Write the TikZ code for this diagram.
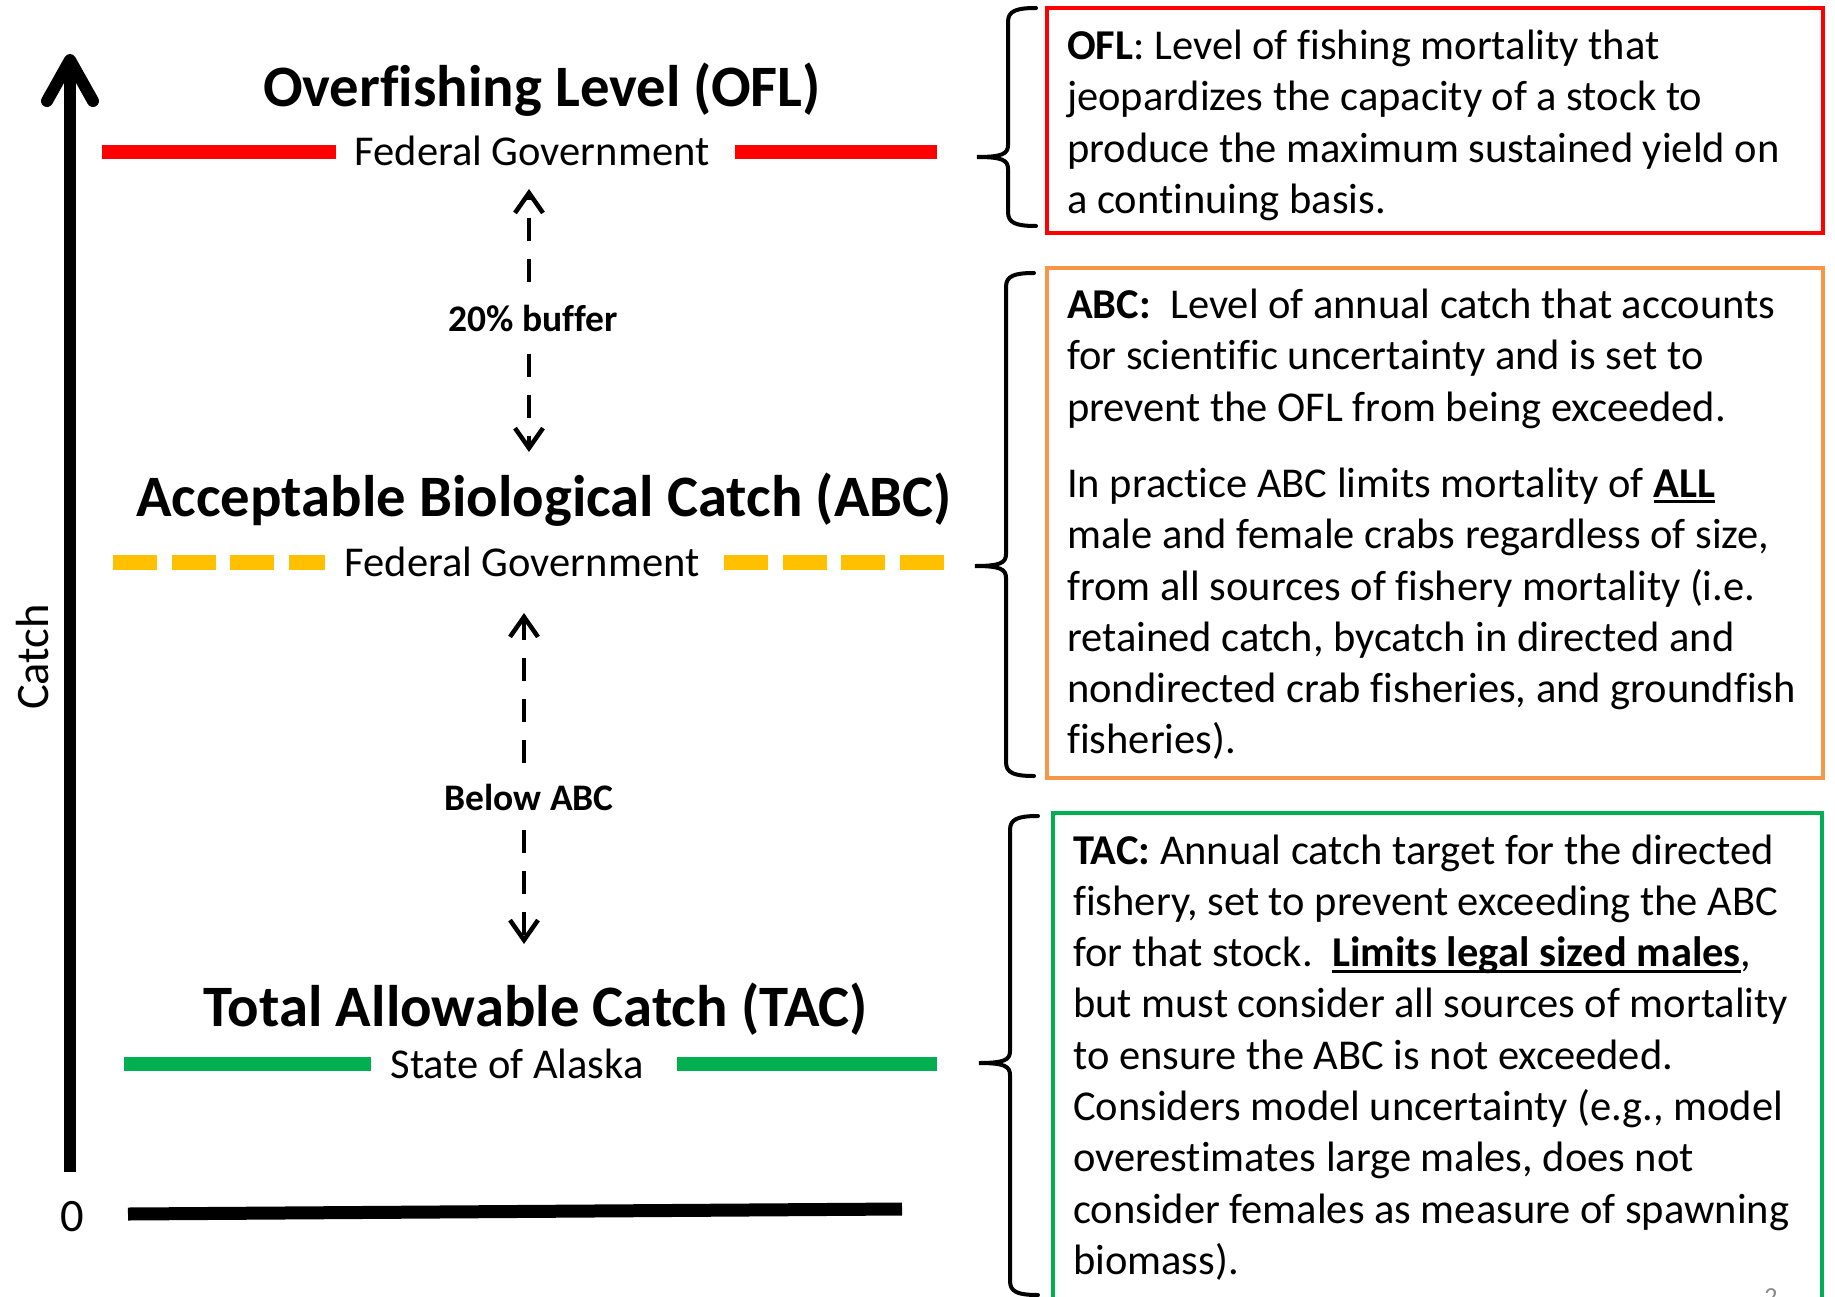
\documentclass[tikz,border=0pt]{standalone}
\usepackage{fontspec}
\setmainfont[Ligatures=NoCommon]{Carlito}
\usetikzlibrary{arrows.meta}
\definecolor{oflred}{HTML}{FF0000}
\definecolor{abcyel}{HTML}{FFC000}
\definecolor{abcorg}{HTML}{F79646}
\definecolor{tacgrn}{HTML}{00B050}
\definecolor{pagegray}{HTML}{8B8B8B}
\newcommand\myul[1]{\setbox0\hbox{#1}\rlap{\rule[-6pt]{\wd0}{3pt}}\box0}
\newcommand\mybracepath[4]{%
  \draw[bracestyle] (#1+28,#2) .. controls (#1+8,#2) and (#1,#2+3) .. (#1,#2+14)
    -- (#1,#3-12) .. controls (#1,#3-3) and (#1-6,#3) .. (#1-31,#3)
    .. controls (#1-6,#3) and (#1,#3+3) .. (#1,#3+12)
    -- (#1,#4-14) .. controls (#1,#4-3) and (#1+8,#4) .. (#1+28,#4);}
\begin{document}
\begin{tikzpicture}[x=1pt,y=-1pt,
  title/.style={font=\fontsize{58.7}{70}\selectfont\bfseries, inner sep=0pt, anchor=base},
  gov/.style={font=\fontsize{42.5}{50}\selectfont, inner sep=0pt, anchor=base},
  lbl/.style={font=\fontsize{37.5}{45}\selectfont\bfseries, inner xsep=2pt, inner ysep=22pt, anchor=base},
  axislbl/.style={font=\fontsize{46.5}{55}\selectfont, inner sep=0pt, anchor=base},
  levelline/.style={line width=14pt},
  dasharr/.style={line width=4.5pt, dash pattern=on 23pt off 18pt, -{Straight Barb[length=20pt,width=28pt]}},
  boxline/.style={line width=4pt},
  bracestyle/.style={line width=4pt, line cap=round},
  desc/.style={inner sep=0pt, anchor=base west, font=\fontsize{42.5}{51.3}\selectfont}
]
\useasboundingbox (0,0) rectangle (1835,1297);
\fill[white] (0,0) rectangle (1835,1297);

% axes
\coordinate (ybot) at (70,1172);
\coordinate (ytop) at (70,60);
\draw[line width=12pt] (ybot) -- (ytop);
\draw[line width=12pt, line cap=round, line join=round] (47,101) -- (ytop) -- (93,101);
\coordinate (xl) at (128,1214);
\coordinate (xr) at (902,1209);
\draw[line width=13pt] (xl) -- (xr);
\node[axislbl] (zero) at (72,1231) {0};
\node[axislbl, rotate=90] (catch) at (48,657) {Catch};

% OFL level
\node[title] (ofltitle) at (542,107) {Overfishing Level (OFL)};
\node[gov] (oflgov) at (532,166) {Federal Government};
\draw[levelline, oflred] (102,152) -- (336,152);
\draw[levelline, oflred] (735,152) -- (937,152);

% ABC level
\node[title] (abctitle) at (544,516.5) {Acceptable Biological Catch (ABC)};
\node[gov] (abcgov) at (522,576) {Federal Government};
\draw[line width=15pt, abcyel, dash pattern=on 44pt off 14.5pt] (113,562) -- (325,562);
\draw[line width=15pt, abcyel, dash pattern=on 44pt off 14.5pt] (724,562) -- (944,562);

% TAC level
\node[title] (tactitle) at (536,1026.5) {Total Allowable Catch (TAC)};
\node[gov] (tacgov) at (517,1078) {State of Alaska};
\draw[levelline, tacgrn] (124,1064) -- (371,1064);
\draw[levelline, tacgrn] (677,1064) -- (937,1064);

% dashed arrows
\node[lbl] (buf) at (533,331) {20\% buffer};
\coordinate (t1) at (529,189);
\coordinate (t2) at (529,452);
\draw[dasharr] (buf.north -| t1) -- (t1);
\draw[dasharr] (buf.south -| t2) -- (t2);

\node[lbl, inner ysep=20pt] (below) at (529,810) {Below ABC};
\coordinate (t3) at (524,613);
\coordinate (t4) at (524,944);
\draw[dasharr] (below.north -| t3) -- (t3);
\draw[dasharr] (below.south -| t4) -- (t4);

% boxes
\draw[boxline, oflred] (1047,8) rectangle (1823,233);
\draw[boxline, abcorg] (1047,268) rectangle (1823,778);
\draw[boxline, tacgrn] (1053,813) rectangle (1822,1330);

% braces
\mybracepath{1008}{8}{157}{226}
\mybracepath{1006}{273}{566}{776}
\mybracepath{1010}{816}{1063}{1295}

% descriptions
\node[desc] (ofldesc) at (1067,59.5) {\parbox[t]{780pt}{\raggedright
\textbf{OFL}: Level of fishing mortality that\\
jeopardizes the capacity of a stock to\\
produce the maximum sustained yield on\\
a continuing basis.}};

\node[desc] (abcdesc) at (1067,318.5) {\parbox[t]{780pt}{\raggedright
\textbf{ABC:}\ \ Level of annual catch that accounts\\
for scientific uncertainty and is set to\\
prevent the OFL from being exceeded.\\[25pt]
In practice ABC limits mortality of \myul{\textbf{ALL}}\\
male and female crabs regardless of size,\\
from all sources of fishery mortality (i.e.\\
retained catch, bycatch in directed and\\
nondirected crab fisheries, and groundfish\\
fisheries).}};

\node[desc] (tacdesc) at (1073,864) {\parbox[t]{780pt}{\raggedright
\textbf{TAC:} Annual catch target for the directed\\
fishery, set to prevent exceeding the ABC\\
for that stock.\ \ \myul{\textbf{Limits legal sized males}},\\
but must consider all sources of mortality\\
to ensure the ABC is not exceeded.\\
Considers model uncertainty (e.g., model\\
overestimates large males, does not\\
consider females as measure of spawning\\
biomass).}};

\node[font=\fontsize{26}{30}\selectfont, text=pagegray, inner sep=0pt, anchor=base] (pagenum) at (1771,1305) {2};
\end{tikzpicture}
\end{document}
